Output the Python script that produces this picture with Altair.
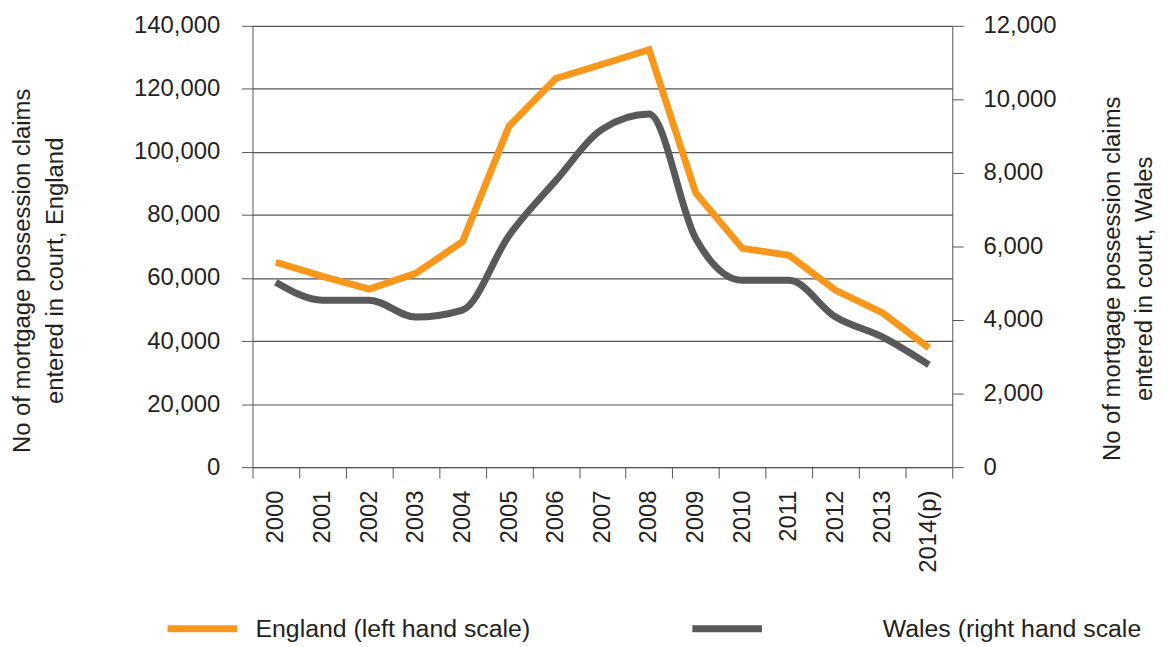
import altair as alt
import pandas as pd

years = ["2000", "2001", "2002", "2003", "2004", "2005", "2006", "2007",
         "2008", "2009", "2010", "2011", "2012", "2013", "2014(p)"]
england = [65000, 60500, 56500, 61500, 71500, 108200, 123300, 127800,
           132400, 87000, 69400, 67200, 56100, 49000, 37800]
wales = [5030, 4540, 4540, 4080, 4270, 6300, 7790, 9190,
         9600, 6220, 5080, 5080, 4080, 3540, 2780]
series_names = ["England (left hand scale)", "Wales (right hand scale"]
colors = ["#F7981D", "#58595B"]
left_ticks = [0, 20000, 40000, 60000, 80000, 100000, 120000, 140000]
right_ticks = [0, 2000, 4000, 6000, 8000, 10000, 12000]

rows = []
for y, e, w in zip(years, england, wales):
    rows.append({"year": y, "series": series_names[0], "value": e})
    rows.append({"year": y, "series": series_names[1], "value": w})
df = pd.DataFrame(rows)

FONT = "Liberation Sans"
TXT = "#231F20"
AX = "#555555"


def make_legend(lx, offset):
    return alt.Legend(
        title=None, orient="none", legendX=lx, legendY=568,
        direction="horizontal", symbolType="stroke", symbolSize=4900,
        symbolStrokeWidth=7, labelFontSize=25, labelOffset=offset,
        labelFont=FONT, labelColor=TXT, labelLimit=600,
    )


x = alt.X(
    "year:N", sort=years, bandPosition=0.5,
    scale=alt.Scale(type="band", paddingInner=0, paddingOuter=0),
    axis=alt.Axis(title=None, labelAngle=-90, labelPadding=12, tickBand="extent",
                  tickSize=11, labelFontSize=24, domainColor=AX, tickColor=AX),
)

eng = alt.Chart(df).transform_filter(
    alt.datum.series == series_names[0]
).mark_line(strokeWidth=7).encode(
    x=x,
    y=alt.Y("value:Q", scale=alt.Scale(domain=[0, 140000]),
            axis=alt.Axis(values=left_ticks, format=",d", orient="left", grid=True,
                          gridColor=AX, gridWidth=1.2, tickSize=11, labelPadding=22,
                          title=["No of mortgage possession claims", "entered in court, England"],
                          titleAngle=-90, titlePadding=66, titleY=246,
                          domainColor=AX, tickColor=AX)),
    color=alt.Color("series:N",
                    scale=alt.Scale(domain=[series_names[0]], range=[colors[0]]),
                    legend=make_legend(-89, 15)),
)

wal = alt.Chart(df).transform_filter(
    alt.datum.series == series_names[1]
).mark_line(strokeWidth=7, interpolate="monotone").encode(
    x=x,
    y=alt.Y("value:Q", scale=alt.Scale(domain=[0, 12000]),
            axis=alt.Axis(values=right_ticks, format=",d", orient="right", grid=False,
                          tickSize=11, labelPadding=20,
                          title=["No of mortgage possession claims", "entered in court, Wales"],
                          titleAngle=-90, titlePadding=37, titleY=254, titleLineHeight=32,
                          domainColor=AX, tickColor=AX)),
    color=alt.Color("series:N",
                    scale=alt.Scale(domain=[series_names[1]], range=[colors[1]]),
                    legend=make_legend(439, 118)),
)

chart = alt.layer(eng, wal).resolve_scale(
    y="independent", color="independent"
).resolve_legend(color="independent").properties(
    width=704, height=444,
    background="white",
    autosize=alt.AutoSizeParams(type="none"),
    padding={"left": 246, "top": 16, "right": 209, "bottom": 175},
).configure_view(stroke=None).configure_axis(
    labelFont=FONT, labelFontSize=24, labelColor=TXT,
    titleFont=FONT, titleFontSize=24, titleColor=TXT, titleFontWeight="normal",
    titleLineHeight=34,
)

chart.save("out.html", embed_options={"renderer": "svg", "actions": False})
